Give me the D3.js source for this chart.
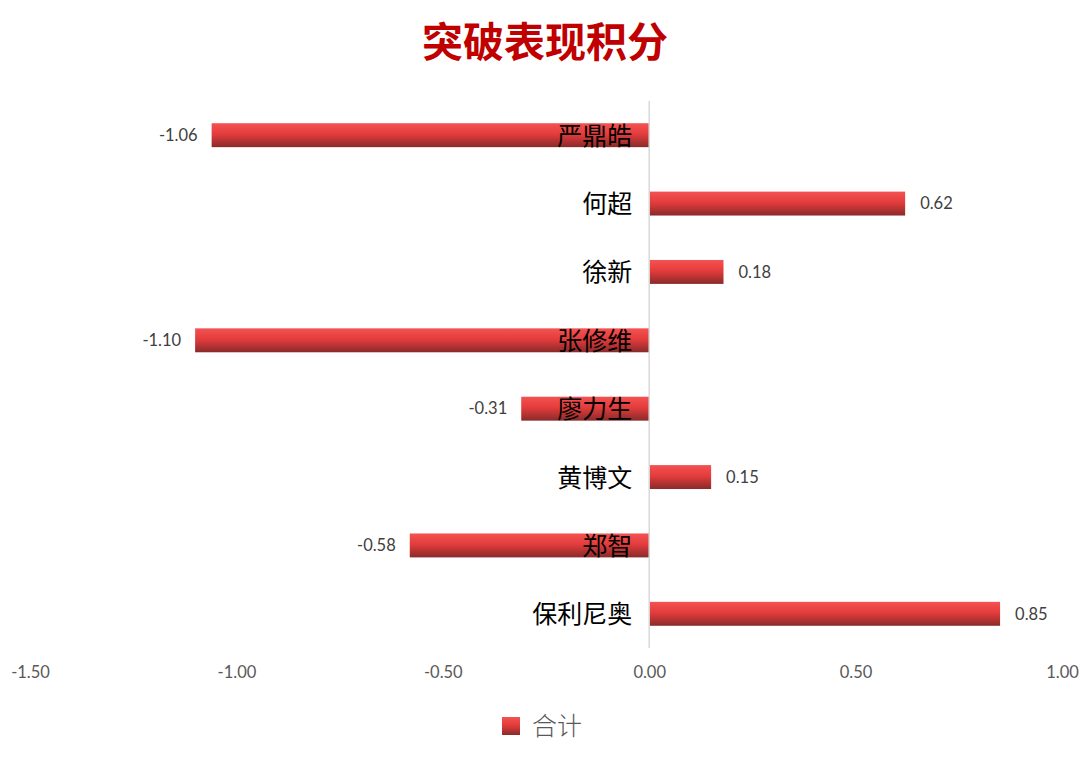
<!DOCTYPE html>
<html>
<head>
<meta charset="utf-8">
<script src="https://cdn.jsdelivr.net/npm/d3@7/dist/d3.min.js"></script>
<style>
  body { margin: 0; background: #fff; }
  #chart-area svg { display: block; }
</style>
</head>
<body>
<div id="chart-area"></div>
<script>
// data
var names = ["严鼎皓", "何超", "徐新", "张修维", "廖力生", "黄博文", "郑智", "保利尼奥"]
var totals = [-1.06, 0.62, 0.18, -1.10, -0.31, 0.15, -0.58, 0.85]
var xTicks = [-1.5, -1.0, -0.5, 0, 0.5, 1.0]
var seriesName = "合计"
var title = "突破表现积分"

var width = 1090
var height = 766
var cjk = "'Noto Sans CJK SC', 'Noto Sans', sans-serif"
var num = "Lato, 'Open Sans', sans-serif"
// hyphen-minus like the original, not d3's unicode minus
var fmt = (v) => d3.format(".2f")(v).replace("\u2212", "-")

var svg = d3.select("#chart-area")
  .append("svg")
  .attr("width", width)
  .attr("height", height)

var defs = svg.append("defs")
var grad = defs.append("linearGradient")
  .attr("id", "barGrad")
  .attr("x1", 0).attr("y1", 0).attr("x2", 0).attr("y2", 1)
grad.append("stop").attr("offset", "0%").attr("stop-color", "#f45252")
grad.append("stop").attr("offset", "45%").attr("stop-color", "#e43c3c")
grad.append("stop").attr("offset", "100%").attr("stop-color", "#8a2a2a")

var x = d3.scaleLinear().domain([-1.5, 1.0]).range([30, 1062])
var y = d3.scaleBand().domain(names).range([101, 648]).paddingInner(0.65).paddingOuter(0.325)

// title
svg.append("text")
  .attr("x", 545)
  .attr("y", 57)
  .attr("text-anchor", "middle")
  .attr("font-family", cjk)
  .attr("font-size", "41px")
  .attr("font-weight", "bold")
  .style("fill", "#c00000")
  .text(title)

// bottom axis, labels only
var bottomAxis = d3.axisBottom(x).tickValues(xTicks).tickSize(0).tickFormat(fmt)
var ax = svg.append("g")
  .attr("class", "bottom axis")
  .attr("transform", "translate(0, 663)")
  .call(bottomAxis)
ax.select(".domain").remove()
ax.selectAll("text")
  .attr("font-family", num)
  .attr("font-size", "16.5px")
  .style("fill", "#595959")

// bars
var rects = svg.selectAll("rect.bar").data(names)
rects.enter()
  .append("rect")
    .attr("class", "bar")
    .attr("x", (d, i) => x(Math.min(0, totals[i])))
    .attr("y", (d) => y(d))
    .attr("width", (d, i) => Math.abs(x(totals[i]) - x(0)))
    .attr("height", y.bandwidth())
    .attr("fill", "url(#barGrad)")

// zero line
svg.append("line")
  .attr("x1", x(0)).attr("x2", x(0))
  .attr("y1", 101).attr("y2", 648)
  .style("stroke", "#d9d9d9")
  .style("stroke-width", 1.5)

// category labels
svg.selectAll("text.cat").data(names)
  .enter()
  .append("text")
    .attr("class", "cat")
    .attr("x", x(0) - 17)
    .attr("y", (d) => y(d) + y.bandwidth() / 2)
    .attr("dy", "0.38em")
    .attr("text-anchor", "end")
    .attr("font-family", cjk)
    .attr("font-size", "25px")
    .style("fill", "#000")
    .text((d) => d)

// value labels
svg.selectAll("text.val").data(names)
  .enter()
  .append("text")
    .attr("class", "val")
    .attr("x", (d, i) => totals[i] < 0 ? x(totals[i]) - 14 : x(totals[i]) + 15)
    .attr("y", (d) => y(d) + y.bandwidth() / 2)
    .attr("dy", "0.35em")
    .attr("text-anchor", (d, i) => totals[i] < 0 ? "end" : "start")
    .attr("font-family", num)
    .attr("font-size", "16.5px")
    .style("fill", "#404040")
    .text((d, i) => fmt(totals[i]))

// legend
var legend = svg.append("g").attr("transform", "translate(502, 717)")
legend.append("rect")
  .attr("width", 18).attr("height", 18)
  .attr("fill", "url(#barGrad)")
legend.append("text")
  .attr("x", 30)
  .attr("y", 9)
  .attr("dy", "0.36em")
  .attr("font-family", cjk)
  .attr("font-size", "25px")
  .attr("font-weight", 300)
  .style("fill", "#595959")
  .text(seriesName)
</script>
</body>
</html>
